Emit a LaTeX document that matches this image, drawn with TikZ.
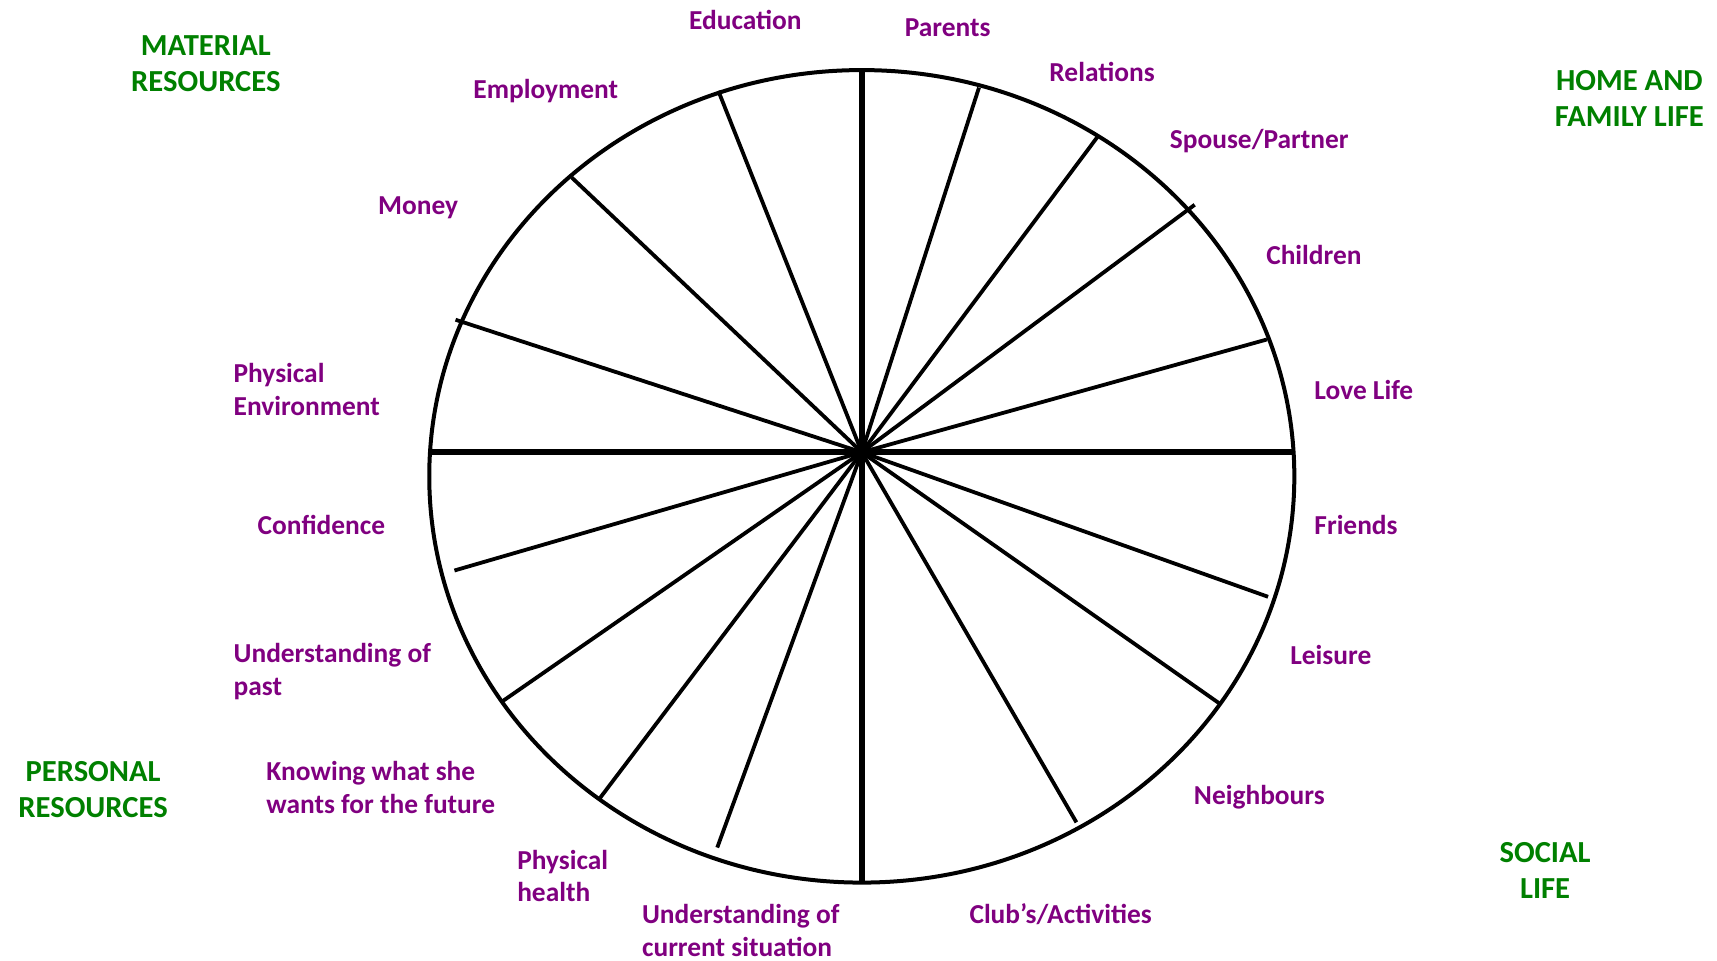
\documentclass[tikz,border=0pt]{standalone}
\usepackage{fontspec}
\setmainfont{Carlito}
\definecolor{lblpurple}{RGB}{128,0,128}
\definecolor{grpgreen}{RGB}{0,128,0}
\tikzset{
  lbl/.style={text=lblpurple, font=\bfseries\fontsize{13.7pt}{16.4pt}\selectfont, inner sep=0pt, align=left, anchor=west},
  grp/.style={text=grpgreen, font=\bfseries\fontsize{15.3pt}{18pt}\selectfont, inner sep=0pt, align=center},
  rim/.style={line width=2pt, black},
  spoke/.style={line width=1.9pt, black},
  axis/.style={line width=3.1pt, black}
}
\begin{document}
\begin{tikzpicture}[x=0.5475pt, y=-0.5475pt]
\useasboundingbox (0,0) rectangle (1568,877);
\coordinate (hub) at (787,413);
% rim
\draw[rim] (787,435) ellipse [x radius=395, y radius=371];
% axes
\coordinate (top) at (787,65);
\coordinate (bot) at (787,806);
\coordinate (lft) at (392,413);
\coordinate (rgt) at (1181,413);
\draw[axis] (top) -- (bot);
\draw[axis] (lft) -- (rgt);
% spokes upper right
\foreach \p in {(894,80),(1003,124),(1091,187),(1157,310)}
  \draw[spoke] (hub) -- \p;
% spokes upper left
\foreach \p in {(656,83),(522,162),(416,292)}
  \draw[spoke] (hub) -- \p;
% spokes lower right
\foreach \p in {(1158,545),(1113,642),(983,751)}
  \draw[spoke] (hub) -- \p;
% spokes lower left
\foreach \p in {(415,521),(458,641),(547,730),(655,774)}
  \draw[spoke] (hub) -- \p;
% labels
\node[lbl] (education) at (629,18) {Education};
\node[lbl] (parents) at (826,25) {Parents};
\node[lbl] (relations) at (958,66) {Relations};
\node[lbl] (spouse) at (1068,129) {Spouse/Partner};
\node[lbl] (children) at (1156,233) {Children};
\node[lbl] (lovelife) at (1200,356) {Love Life};
\node[lbl] (friends) at (1200,479) {Friends};
\node[lbl] (leisure) at (1178,598) {Leisure};
\node[lbl] (neighbours) at (1090,728) {Neighbours};
\node[lbl] (clubs) at (885,835) {Club’s/Activities};
\node[lbl] (current) at (586,850) {Understanding of\\current situation};
\node[lbl] (health) at (472,800) {Physical\\health};
\node[lbl] (future) at (243,719) {Knowing what she\\wants for the future};
\node[lbl] (past) at (213,613) {Understanding of\\past};
\node[lbl] (confidence) at (235,479) {Confidence};
\node[lbl] (environment) at (213,356) {Physical\\Environment};
\node[lbl] (money) at (345,190) {Money};
\node[lbl] (employment) at (432,83) {Employment};
% group headings
\node[grp] (material) at (188,58) {MATERIAL\\RESOURCES};
\node[grp] (home) at (1488,90) {HOME AND\\FAMILY LIFE};
\node[grp] (personal) at (85,721) {PERSONAL\\RESOURCES};
\node[grp] (social) at (1411,795) {SOCIAL\\LIFE};
\end{tikzpicture}
\end{document}
